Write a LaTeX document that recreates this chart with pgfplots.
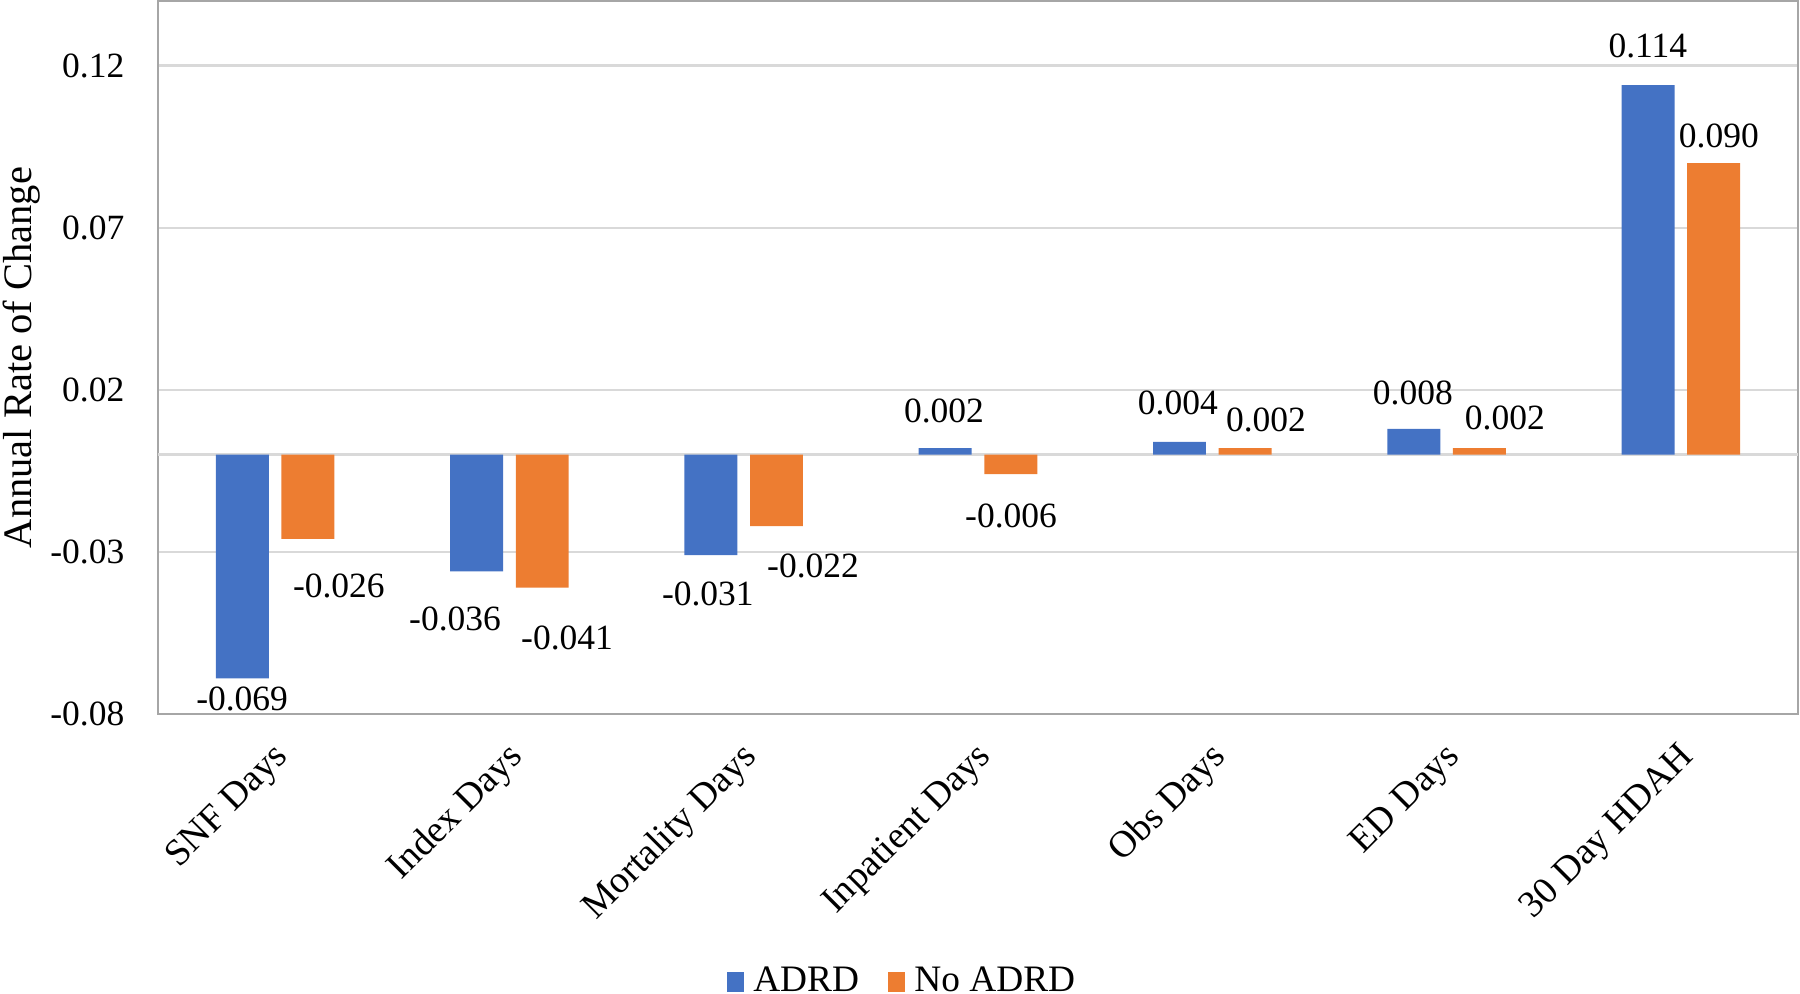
\documentclass[border=0pt]{standalone}
\usepackage{pgfplots}
\pgfplotsset{compat=1.18}
\usepackage{fontspec}
\setmainfont{Liberation Serif}
\definecolor{adrd}{HTML}{4472C4}
\definecolor{noadrd}{HTML}{ED7D31}
\definecolor{gridc}{HTML}{D9D9D9}
\definecolor{axc}{HTML}{A6A6A6}
\newcommand{\fsmall}{\fontsize{10.65}{12.5}\selectfont}
\newcommand{\flarge}{\fontsize{12.15}{14}\selectfont}
\newcommand{\fcat}{\fontsize{11.3}{13}\selectfont}
\newcommand{\fleg}{\fontsize{11.2}{13}\selectfont}
\begin{document}
\begin{tikzpicture}
\begin{axis}[name=ax,
  scale only axis, width=492pt, height=213.9pt,
  xmin=-0.5, xmax=6.5, ymin=-0.08, ymax=0.14,
  axis line style={axc, line width=0.8pt},
  xtick={0,1,2,3,4,5,6},
  xticklabels={SNF Days, Index Days, Mortality Days, Inpatient Days, Obs Days, ED Days, 30 Day HDAH},
  ytick={-0.08,-0.03,0.02,0.07,0.12},
  yticklabels={-0.08,-0.03,0.02,0.07,0.12},
  major tick length=0pt,
  ymajorgrids, major grid style={gridc, line width=0.8pt},
  extra y ticks={0}, extra y tick labels={},
  extra y tick style={ymajorgrids, major grid style={gridc, line width=0.8pt}},
  xticklabel style={font=\fcat, inner sep=0pt, xshift=2.6pt, yshift=-11.3pt, rotate=45, anchor=east},
  yticklabel style={font=\fsmall, inner sep=0pt, anchor=east, xshift=-9.9pt},
  ylabel={Annual Rate of Change},
  every axis y label/.style={at={(axis description cs:-0.0829,0.5)}, rotate=90, anchor=center, font=\flarge},
  legend style={at={(axis description cs:0.4545,-0.3759)}, anchor=center, draw=none, fill=none,
    legend columns=2, font=\fleg, inner sep=0pt, nodes={inner sep=1.35pt},
    /tikz/every odd column/.append style={column sep=1.4pt},
    /tikz/every even column/.append style={column sep=7.4pt}},
  legend image code/.code={\path[#1] (0pt,-3pt) rectangle (5.1pt,3pt);},
]
\addplot[ybar, bar width=0.226, bar shift=-0.14, fill=adrd, draw=none]
  coordinates {(0,-0.069) (1,-0.036) (2,-0.031) (3,0.002) (4,0.004) (5,0.008) (6,0.114)};
\addlegendentry{ADRD}
\addplot[ybar, bar width=0.226, bar shift=0.14, fill=noadrd, draw=none]
  coordinates {(0,-0.026) (1,-0.041) (2,-0.022) (3,-0.006) (4,0.002) (5,0.002) (6,0.090)};
\addlegendentry{No ADRD}
\addplot[forget plot, draw=none, mark=none, nodes near coords, point meta=explicit symbolic,
  every node near coord/.style={anchor=center, inner sep=0pt, font=\fsmall, text=black}]
  table[x=x, y=y, meta=lab] {
x y lab
-0.141 -0.0753 -0.069
0.272 -0.0404 -0.026
0.768 -0.0506 -0.036
1.246 -0.0565 -0.041
1.847 -0.0429 -0.031
2.296 -0.0343 -0.022
2.855 0.0136 0.002
3.141 -0.0188 -0.006
3.853 0.0160 0.004
4.229 0.0108 0.002
4.856 0.0191 0.008
5.249 0.0114 0.002
5.859 0.1262 0.114
6.162 0.0985 0.090
};
\end{axis}
\pgfresetboundingbox
\path[use as bounding box] ([xshift=-47.4pt,yshift=-84pt]ax.south west) rectangle ([xshift=0.6pt,yshift=0.3pt]ax.north east);
\end{tikzpicture}
\end{document}
